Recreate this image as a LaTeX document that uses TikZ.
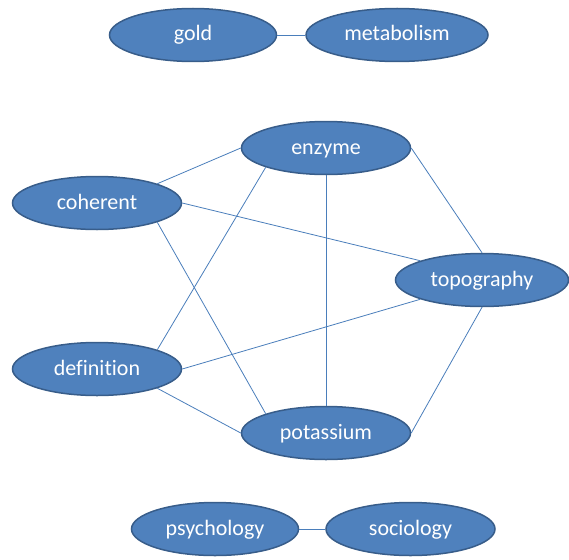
\documentclass[tikz,border=0pt]{standalone}
\usepackage{fontspec}
\setmainfont{Carlito}[Ligatures=CommonOff]
\usetikzlibrary{positioning, shapes.geometric}
\definecolor{topicfill}{HTML}{4F81BD}
\definecolor{topicline}{HTML}{385D8A}
\definecolor{linkline}{HTML}{4A7EBB}

\begin{document}
\begin{tikzpicture}[x=1pt, y=-1pt,
  topic/.style={ellipse, draw=topicline, line width=1.5pt, fill=topicfill,
    text=white, font=\fontsize{22}{26}\selectfont, inner sep=0pt,
    text height=15pt, text depth=3pt,
    minimum width=169pt, minimum height=53pt},
  link/.style={draw=linkline, line width=0.8pt}]
  \useasboundingbox (0,0) rectangle (569,559);

  % top pair
  \node[topic, minimum width=167pt] (gold) at (193,35) {gold};
  \node[topic, minimum width=182pt, right=28pt of gold] (metabolism) {metabolism};

  % middle ring
  \node[topic] (enzyme) at (326,148) {enzyme};
  \node[topic] (coherent) at (97,203) {coherent};
  \node[topic, minimum width=173pt] (topography) at (482,280) {topography};
  \node[topic] (definition) at (97,369) {definition};
  \node[topic] (potassium) at (326,433) {potassium};

  % bottom pair
  \node[topic, minimum width=167pt] (psychology) at (215,529) {psychology};
  \node[topic, right=26pt of psychology] (sociology) {sociology};

  \draw[link] (gold.east) -- (metabolism.west);
  \draw[link] (psychology.east) -- (sociology.west);
  \draw[link] (coherent.north east) -- (enzyme.west);
  \draw[link] (coherent.east) -- (topography.north west);
  \draw[link] (coherent.south east) -- (potassium.north west);
  \draw[link] (enzyme.south west) -- (definition.north east);
  \draw[link] (enzyme.south) -- (potassium.north);
  \draw[link] (enzyme.east) -- (topography.north);
  \draw[link] (definition.east) -- (topography.south west);
  \draw[link] (definition.south east) -- (potassium.west);
  \draw[link] (topography.south) -- (potassium.east);
\end{tikzpicture}
\end{document}
